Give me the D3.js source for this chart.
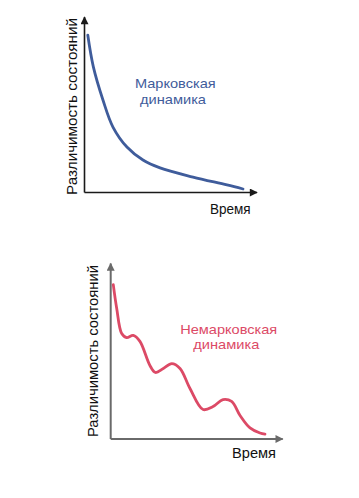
<!DOCTYPE html>
<html><head><meta charset="utf-8">
<script src="https://cdn.jsdelivr.net/npm/d3@7"></script>
<style>
html,body{margin:0;padding:0;background:#fff;}
text{font-family:"Liberation Sans",Arial,Helvetica,sans-serif;}
</style></head>
<body>
<svg id="c" width="359" height="498"></svg>
<script>
// Markovian dynamics: distinguishability vs time
const markovTime = [0.19, 0.51, 1.07, 1.65, 2.46, 3.39, 4.38, 6.29, 8.26, 9.19];
const markovValue = [8.97, 7.17, 5.27, 3.73, 2.59, 1.85, 1.40, 0.88, 0.43, 0.20];
// Non-Markovian dynamics
const nonMarkovTime = [0.15, 0.35, 0.64, 0.93, 1.31, 1.70, 2.28, 2.60, 3.06, 3.55, 4.03, 4.61, 5.37, 5.95, 6.53, 7.03, 7.52, 8.10, 8.68, 8.97];
const nonMarkovValue = [8.80, 7.44, 6.01, 5.78, 5.90, 5.56, 4.19, 3.79, 4.02, 4.30, 4.02, 2.88, 1.68, 1.85, 2.25, 2.14, 1.34, 0.63, 0.34, 0.28];
const yLabel = "Различимость состояний";
const xLabel = "Время";
const titleMarkov = ["Марковская", "динамика"];
const titleNonMarkov = ["Немарковская", "динамика"];

const svg = d3.select("#c");
const defs = svg.append("defs");
function marker(id, color){
  defs.append("marker").attr("id", id).attr("viewBox","0 0 10 10")
    .attr("refX", 9).attr("refY", 5).attr("markerWidth", 9).attr("markerHeight", 8)
    .attr("markerUnits","userSpaceOnUse").attr("orient","auto")
    .append("path").attr("d","M0,0 L10,5 L0,10 Z").attr("fill", color);
}
marker("arrA", "#1a1a1a");
marker("arrB", "#6a6a6a");

function panel(cfg){
  const x = d3.scaleLinear().domain([0,10]).range([cfg.x0, cfg.x1]);
  const y = d3.scaleLinear().domain([0,10]).range([cfg.y0, cfg.y1]);
  const g = svg.append("g");
  g.append("line").attr("x1", x(0)).attr("y1", y(0)).attr("x2", x(0)).attr("y2", y(10))
    .attr("stroke", cfg.axisColor).attr("stroke-width", cfg.axisW).attr("marker-end", `url(#${cfg.marker})`);
  g.append("line").attr("x1", x(0)).attr("y1", y(0)).attr("x2", x(10)).attr("y2", y(0))
    .attr("stroke", cfg.axisColor).attr("stroke-width", cfg.axisW).attr("marker-end", `url(#${cfg.marker})`);
  const pts = cfg.t.map((d,i)=>[d, cfg.v[i]]);
  g.append("path").datum(pts)
    .attr("d", d3.line().x(d=>x(d[0])).y(d=>y(d[1])).curve(d3.curveCatmullRom.alpha(0.5)))
    .attr("fill","none").attr("stroke", cfg.color).attr("stroke-width", 2.8)
    .attr("stroke-linecap","round");
  g.append("text").attr("transform", `translate(${cfg.ylx},${cfg.yly}) rotate(-90)`)
    .attr("text-anchor","middle").attr("font-size", 14).attr("fill","#111")
    .attr("textLength", cfg.ylLen).attr("lengthAdjust","spacingAndGlyphs")
    .text(yLabel);
  g.append("text").attr("x", cfg.xlx).attr("y", cfg.xly).attr("font-size", 14).attr("fill","#111")
    .attr("textLength", cfg.xlLen).attr("lengthAdjust","spacingAndGlyphs").text(xLabel);
  cfg.title.forEach((s,i)=>{
    g.append("text").attr("x", cfg.tx[i]).attr("y", cfg.ty[i]).attr("text-anchor","middle")
      .attr("font-size", 13).attr("fill", cfg.titleColor)
      .attr("textLength", cfg.tLen[i]).attr("lengthAdjust","spacingAndGlyphs").text(s);
  });
}

panel({x0:84.5, x1:257, y0:192.5, y1:17, axisColor:"#1a1a1a", axisW:1.6, marker:"arrA",
  t:markovTime, v:markovValue, color:"#3f5c9b", titleColor:"#3f5c9b",
  ylx:77, yly:106.5, ylLen:177, xlx:210, xly:213.8, xlLen:40.7,
  title:titleMarkov, tx:[175.3,173], ty:[88.3,103.5], tLen:[80.7,66]});

panel({x0:110.7, x1:282.7, y0:439, y1:263.5, axisColor:"#6a6a6a", axisW:2, marker:"arrB",
  t:nonMarkovTime, v:nonMarkovValue, color:"#dc4a66", titleColor:"#dc4a66",
  ylx:98.3, yly:351, ylLen:172, xlx:232, xly:458, xlLen:44,
  title:titleNonMarkov, tx:[228.7,226.3], ty:[333.5,348.7], tLen:[97,66]});
</script>
</body></html>
